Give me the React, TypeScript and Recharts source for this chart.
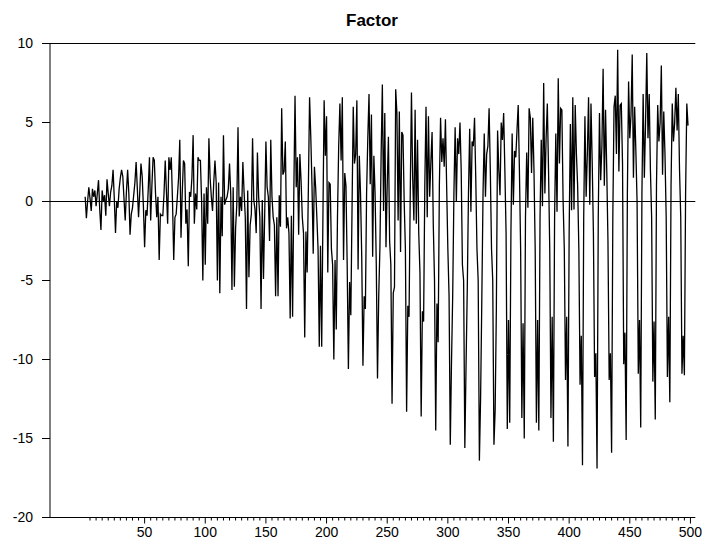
import React from 'react';
import { LineChart, Line, XAxis, YAxis, ReferenceLine } from 'recharts';

// Series values, one row per 12-point cycle (index 1..498)
const factorValues: number[] = [
  0.3, -1.05, 0.0, 0.9, 0.2, -0.6, 0.8, 0.3, 0.7, -0.3, 0.5, 1.35,
  -0.5, -1.8, 0.7, 0.0, 0.4, -0.9, 1.4, 0.5, -0.3, 0.6, 1.0, 2.0,
  0.2, -2.0, 0.0, -0.4, 0.8, 1.5, 2.0, 1.6, 0.2, -1.2, 0.6, 2.0,
  0.5, -2.1, -0.8, -0.4, 0.4, 1.2, 2.5, 0.8, -1.0, 0.6, 2.4, 1.6,
  -0.3, -2.9, -0.55, -0.9, 0.8, 2.8, -1.2, 1.0, 2.8, 2.6, 0.5, -1.0,
  0.3, -3.7, -0.8, -0.9, -0.9, 0.5, 2.6, 0.6, -1.4, 2.8, 2.0, 2.8,
  0.0, -3.7, -1.0, -0.8, 0.3, 1.5, 3.9, -2.3, 0.5, 2.6, 2.4, -1.4,
  -0.5, -4.1, 0.6, 0.3, 1.5, 4.2, -1.4, 0.5, -0.5, 2.8, 2.6, 2.6,
  0.0, -5.0, 0.5, -4.0, 0.9, -1.4, 4.0, 1.5, 0.3, -0.6, 1.2, 2.6,
  1.2, -5.0, 1.2, -5.8, 0.3, -2.2, 4.2, -0.2, 0.1, 0.3, 0.8, 2.4,
  0.5, -5.6, 0.9, -5.4, -1.7, -0.2, 4.7, -0.95, 0.3, -0.6, 2.5, 0.6,
  -1.0, -6.8, 0.7, -4.8, -1.5, -0.8, 4.0, 0.1, -0.5, -2.0, 3.1, 0.3,
  -1.0, -6.8, 0.1, -4.9, -0.8, 3.8, 0.9, 0.3, -2.5, 3.9, 0.3, -1.0,
  -1.5, -6.0, -1.0, -6.0, 0.4, -1.6, 5.9, 1.7, 1.9, 3.8, -1.7, -1.0,
  -2.0, -7.4, -0.9, -7.3, 0.5, 6.7, 0.9, 2.8, -2.1, 3.0, 1.3, -1.0,
  -2.0, -8.6, -1.9, -4.5, 0.8, 6.6, 4.1, 1.0, -3.3, 2.2, 0.9, -1.0,
  -3.0, -9.2, -2.8, -9.2, -1.0, 6.4, 2.9, 5.4, -4.5, 1.2, 1.1, -3.0,
  -4.0, -10.0, -3.7, -8.1, -1.0, 3.5, 6.2, 2.6, 6.6, -3.7, 1.8, 1.0,
  -4.0, -10.6, -5.1, -7.2, -0.5, 6.0, 2.4, 3.0, 6.4, -4.3, 2.9, 0.5,
  -3.5, -10.4, -6.0, -6.8, 0.5, 4.0, 6.8, 1.1, 5.5, -3.5, 2.9, 0.5,
  -4.0, -11.2, -6.0, -2.9, 3.0, 7.4, -0.6, 5.6, -2.9, 1.0, 4.1, -2.5,
  -4.0, -12.8, -5.8, -5.4, 7.1, 5.6, -1.2, 5.7, -3.2, 4.4, 4.2, 0.0,
  -3.0, -13.3, -6.6, -7.3, 0.5, 6.9, 1.5, -1.2, 5.8, -1.4, 3.9, -2.0,
  -4.5, -13.6, -6.95, -7.6, 1.0, 6.0, -1.0, 5.4, 0.3, 2.5, 4.4, -1.5,
  -5.0, -14.5, -6.45, -8.9, 1.0, 5.3, 2.5, 4.0, 2.2, 5.2, 1.0, -3.0,
  -6.0, -15.4, -10.2, -5.9, 0.5, 4.7, 0.0, 4.0, 3.0, 5.0, 2.0, -4.0,
  -5.0, -15.6, -10.4, -5.6, 0.5, 4.6, -0.65, 3.8, 3.5, 5.3, 1.5, -3.0,
  -5.0, -16.4, -12.4, -6.2, 0.5, 4.3, 0.3, 3.0, 3.5, 5.9, 2.0, -3.0,
  -5.0, -15.4, -13.2, -6.7, 4.5, 2.0, 0.4, 5.0, 3.9, 5.6, 2.0, -2.0,
  -14.4, -7.5, -14.0, -2.0, 4.3, -0.2, 3.2, 2.8, 4.5, 6.1, 2.0, -3.0,
  -13.7, -7.7, -15.0, -1.0, 3.1, -0.4, 5.9, 5.3, 1.8, 5.3, 2.0, -3.0,
  -14.0, -7.5, -14.5, -1.0, 3.9, -0.3, 7.5, 0.5, 4.0, 6.2, 2.0, -3.0,
  -13.7, -7.3, -15.2, -1.0, 4.3, -0.65, 7.8, 2.4, 5.9, 5.8, 0.1, -3.0,
  -11.3, -7.3, -15.5, -2.0, 4.9, -0.55, 6.6, -0.5, 6.1, 3.0, 1.0, -3.0,
  -11.6, -8.5, -16.7, -1.0, 5.4, 0.3, 3.0, 6.6, -0.2, 6.2, 2.5, -2.0,
  -11.1, -9.6, -16.9, -1.0, 5.6, 1.35, 3.5, 8.4, 1.0, 5.8, 2.0, -2.5,
  -11.3, -9.6, -15.9, -1.0, 6.0, 6.7, 3.0, 9.6, 1.9, 6.1, 6.2, 2.4,
  -10.3, -8.3, -15.1, 0.5, 7.6, 4.0, 5.5, 9.3, 1.5, 6.0, 3.2, 0.0,
  -10.9, -7.5, -14.3, 0.5, 6.8, 1.5, 5.0, 9.4, 4.0, 6.8, 2.0, -1.0,
  -11.4, -7.6, -13.8, 1.0, 6.1, 3.8, 5.0, 8.6, 1.7, 5.7, 3.0, -1.0,
  -11.1, -7.3, -12.7, 1.0, 6.2, 3.8, 5.0, 7.2, 4.5, 6.8, 2.0, -1.0,
  -10.9, -8.5, -11.0, 0.5, 6.2, 4.8,
];

const yTicks: number[] = [-20, -15, -10, -5, 0, 5, 10];
const xMajorTicks: number[] = [50, 100, 150, 200, 250, 300, 350, 400, 450, 500];
const xMinorStep = 5;
const xAllTicks: number[] = Array.from({ length: 100 }, (_, k) => (k + 1) * xMinorStep);

const chartTitle = 'Factor';

const data = factorValues.map((v, k) => ({ t: k + 1, v }));

const FONT = '"Liberation Sans", Arial, Helvetica, sans-serif';

function XTick(props: any) {
  const { x, y, payload } = props;
  const val = payload.value;
  const major = xMajorTicks.includes(val);
  return (
    <g>
      <line x1={x} x2={x} y1={y} y2={y + (major ? 6 : 3)} stroke="#000" strokeWidth={1} />
      {major && (
        <text x={x} y={y + 19} textAnchor="middle" fontSize={14} fontFamily={FONT} fill="#000">
          {val}
        </text>
      )}
    </g>
  );
}

export default function App() {
  return (
    <div style={{ position: 'relative', width: 703, height: 540, background: '#fff' }}>
      <div
        style={{
          position: 'absolute',
          left: 264,
          width: 200,
          top: 3,
          textAlign: 'center',
          fontFamily: FONT,
          fontWeight: 'bold',
          fontSize: 17,
          lineHeight: '20px',
          color: '#000',
        }}
      >
        {chartTitle}
      </div>
      <LineChart width={703} height={540} data={data} margin={{ top: 35.5, right: 15.7, bottom: 0, left: 0 }}>
        <XAxis
          type="number"
          dataKey="t"
          domain={[-28, 504]}
          ticks={xAllTicks}
          interval={0}
          tickSize={0}
          tickMargin={0}
          tickLine={false}
          tick={<XTick />}
          axisLine={{ stroke: '#000' }}
          height={30.5}
          allowDataOverflow
        />
        <YAxis
          type="number"
          domain={[-20, 10]}
          ticks={yTicks}
          interval={0}
          width={42}
          tickSize={8}
          tickMargin={9}
          tickLine={{ stroke: '#000' }}
          axisLine={{ stroke: '#000' }}
          tick={{ fill: '#000', fontSize: 14, fontFamily: FONT }}
          allowDataOverflow
        />
        <ReferenceLine y={10} stroke="#000" />
        <ReferenceLine y={0} stroke="#000" />
        <Line
          type="linear"
          dataKey="v"
          stroke="#000"
          strokeWidth={1.3}
          dot={false}
          isAnimationActive={false}
        />
      </LineChart>
    </div>
  );
}
